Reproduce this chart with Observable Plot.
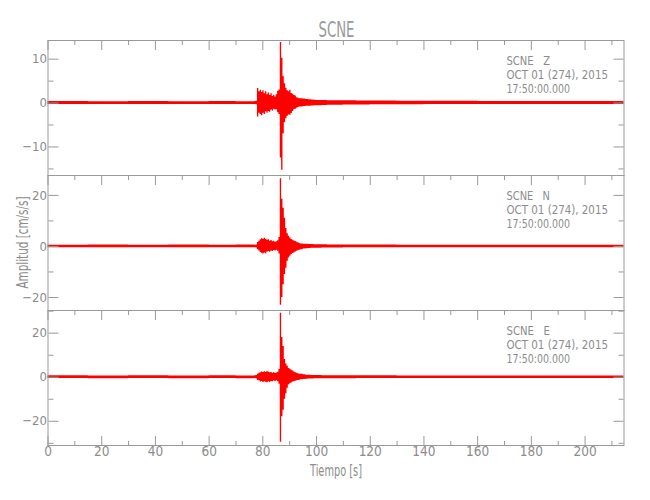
<!DOCTYPE html>
<html><head><meta charset="utf-8">
<script src="https://cdn.jsdelivr.net/npm/d3@7"></script>
<script src="https://cdn.jsdelivr.net/npm/@observablehq/plot@0.6"></script>
<style>
body{margin:0;background:#fff;}
#wrap{position:relative;width:650px;height:500px;overflow:hidden;background:#fff;}
#wrap svg{position:absolute;left:0;}
</style></head><body><div id="wrap"></div>
<script>
// ---- texts ----
const titleText = "SCNE";
const station = "SCNE";
const components = ["Z", "N", "E"];
const dateLine = "OCT 01 (274), 2015";
const timeLine = "17:50:00.000";
const xLabel = "Tiempo [s]";
const yLabel = "Amplitud [cm/s/s]";

// ---- axes ----
const xDomain = [0, 214.5];
const xMajor = [0, 20, 40, 60, 80, 100, 120, 140, 160, 180, 200];
const xMinor = [10, 30, 50, 70, 90, 110, 130, 150, 170, 190, 210];
const yDomains = [[-16.5, 14.25], [-25.1, 27.8], [-31, 30.3]];
const yMajor = [[-10, 0, 10], [-20, 0, 20], [-20, 0, 20]];
const yMinor = [[-15, -5, 5], [-10, 10], [-30, -10, 10, 30]];

// ---- trace envelopes (max / min per time step) ----
const T = [0, 15, 30, 45, 60, 70, 77,
  77.5, 78, 78.5, 79, 79.5, 80, 80.5, 81, 81.5, 82, 82.5, 83, 83.5, 84, 84.5, 85, 85.5, 86,
  86.5, 87, 87.5, 88, 88.5, 89, 89.5, 90, 90.5, 91, 91.5, 92, 92.5, 93, 93.5, 94,
  95, 96, 97, 98, 99, 100,
  102, 104, 107, 110, 115, 120,
  130, 140, 160, 180, 200, 214.5];

const zHi = [0.35, 0.3, 0.35, 0.3, 0.35, 0.3, 0.35,
  0.4, 3.3, 2.6, 2.9, 2.4, 2.8, 2.1, 2.6, 1.9, 2.3, 1.7, 2.1, 1.5, 1.8, 1.4, 1.9, 2.7, 3.0,
  13.8, 10.2, 6.0, 4.4, 3.4, 2.8, 2.6, 2.9, 2.2, 2.0, 1.7, 1.6, 1.2, 1.1, 1.0, 1.0,
  0.9, 0.8, 0.75, 0.7, 0.65, 0.6,
  0.6, 0.55, 0.5, 0.5, 0.45, 0.45,
  0.4, 0.4, 0.35, 0.35, 0.35, 0.35];
const zLo = [-0.3, -0.35, -0.3, -0.35, -0.3, -0.35, -0.3,
  -0.4, -3.2, -2.3, -2.6, -2.9, -2.3, -2.6, -2.0, -2.3, -1.9, -2.1, -1.6, -1.8, -1.4, -1.6, -1.5, -2.2, -2.6,
  -12.5, -15.3, -7.0, -4.5, -3.6, -3.0, -2.7, -2.8, -2.4, -1.9, -1.5, -1.4, -1.2, -1.0, -0.9, -0.9,
  -0.8, -0.75, -0.7, -0.65, -0.6, -0.6,
  -0.55, -0.5, -0.5, -0.45, -0.45, -0.4,
  -0.4, -0.35, -0.35, -0.3, -0.35, -0.35];

const nHi = [0.5, 0.55, 0.5, 0.55, 0.5, 0.55, 0.5,
  0.6, 1.5, 2.0, 2.6, 3.0, 2.8, 3.2, 2.7, 2.4, 2.6, 2.0, 2.3, 1.8, 2.0, 1.6, 1.8, 2.2, 3.5,
  26.5, 18.5, 15.0, 11.0, 7.0, 5.0, 4.0, 3.3, 2.7, 2.4, 2.1, 1.9, 1.6, 1.4, 1.2, 1.0,
  0.9, 0.85, 0.8, 0.75, 0.7, 0.7,
  0.65, 0.6, 0.6, 0.55, 0.55, 0.55,
  0.5, 0.5, 0.5, 0.5, 0.5, 0.5];
const nLo = [-0.55, -0.5, -0.55, -0.5, -0.55, -0.5, -0.55,
  -0.6, -1.3, -1.8, -2.4, -2.7, -3.0, -2.6, -2.9, -2.2, -2.0, -2.3, -1.8, -2.0, -1.6, -1.8, -1.5, -1.9, -3.0,
  -23.0, -20.0, -15.0, -11.0, -8.5, -5.8, -4.5, -3.8, -3.2, -2.8, -2.6, -2.2, -1.9, -1.7, -1.5, -1.3,
  -1.0, -0.9, -0.8, -0.75, -0.7, -0.7,
  -0.65, -0.6, -0.6, -0.55, -0.55, -0.55,
  -0.5, -0.5, -0.5, -0.5, -0.5, -0.5];

const eHi = [0.65, 0.6, 0.65, 0.6, 0.65, 0.6, 0.65,
  0.8, 1.4, 1.8, 2.0, 2.4, 2.1, 2.5, 2.2, 2.6, 2.3, 2.0, 2.2, 1.8, 2.0, 1.7, 1.9, 2.3, 3.5,
  29.0, 18.0, 14.0, 8.0, 6.0, 5.0, 4.0, 3.6, 3.2, 2.8, 2.4, 2.0, 1.8, 1.6, 1.4, 1.3,
  1.1, 0.95, 0.85, 0.8, 0.75, 0.75,
  0.7, 0.7, 0.7, 0.65, 0.65, 0.65,
  0.6, 0.6, 0.6, 0.6, 0.6, 0.6];
const eLo = [-0.6, -0.65, -0.6, -0.65, -0.6, -0.65, -0.6,
  -0.8, -1.5, -1.6, -2.2, -1.9, -2.4, -2.0, -2.3, -2.5, -2.1, -2.4, -1.9, -2.1, -1.7, -1.9, -1.6, -2.0, -3.2,
  -29.5, -18.0, -15.0, -10.0, -7.5, -5.0, -3.5, -3.0, -2.6, -2.2, -2.0, -1.8, -1.6, -1.5, -1.4, -1.2,
  -1.0, -0.9, -0.8, -0.75, -0.7, -0.7,
  -0.7, -0.65, -0.65, -0.65, -0.6, -0.6,
  -0.6, -0.6, -0.6, -0.6, -0.6, -0.6];

const his = [zHi, nHi, eHi];
const los = [zLo, nLo, eLo];

// ---- styling ----
const FONT = '"Liberation Sans Narrow","DejaVu Sans Condensed","Liberation Sans",sans-serif';
const frameColor = "#999";
const textColor = "#8c8c8c";
const traceColor = "#ff0000";
const panelTops = [39.5, 174.5, 309.5];
const panelH = 135;
const W = 650, ML = 47.5, MR = 26.5;

const wrap = document.getElementById("wrap");

function panel(i) {
  const last = i === 2;
  const rows = T.map((t, k) => ({t, hi: his[i][k], lo: los[i][k]}));
  const mb = last ? 35 : 0;
  const marks = [
    Plot.areaY(rows, {x: "t", y1: "lo", y2: "hi", curve: "step-after", fill: traceColor}),
    Plot.frame({stroke: frameColor}),
    // y ticks inward, left
    Plot.axisY(yMajor[i], {anchor: "right", frameAnchor: "left", tickSize: 10, fill: "none", stroke: frameColor, label: null}),
    Plot.axisY(yMinor[i], {anchor: "right", frameAnchor: "left", tickSize: 5, fill: "none", stroke: frameColor, label: null}),
    // y ticks inward, right
    Plot.axisY(yMajor[i], {anchor: "left", frameAnchor: "right", tickSize: 10, fill: "none", stroke: frameColor, label: null}),
    Plot.axisY(yMinor[i], {anchor: "left", frameAnchor: "right", tickSize: 5, fill: "none", stroke: frameColor, label: null}),
    // y tick labels
    Plot.axisY(yMajor[i], {anchor: "left", tickSize: 0, tickPadding: 1, fill: textColor, label: null, fontSize: 13}),
    // x ticks inward, top
    Plot.axisX(xMajor, {anchor: "bottom", frameAnchor: "top", tickSize: 10, fill: "none", stroke: frameColor, label: null}),
    Plot.axisX(xMinor, {anchor: "bottom", frameAnchor: "top", tickSize: 5, fill: "none", stroke: frameColor, label: null})
  ];
  if (last) {
    marks.push(
      Plot.axisX(xMajor, {anchor: "top", frameAnchor: "bottom", tickSize: 10, fill: "none", stroke: frameColor, label: null}),
      Plot.axisX(xMinor, {anchor: "top", frameAnchor: "bottom", tickSize: 5, fill: "none", stroke: frameColor, label: null}),
      Plot.axisX(xMajor, {anchor: "bottom", tickSize: 0, tickPadding: 1, fill: textColor, label: null, fontSize: 13.5})
    );
  }
  const svg = Plot.plot({
    width: W,
    height: panelH + mb,
    marginLeft: ML, marginRight: MR, marginTop: 0, marginBottom: mb,
    x: {domain: xDomain},
    y: {domain: yDomains[i]},
    style: {background: "transparent", overflow: "visible", fontFamily: FONT, fontSize: "13px", color: textColor},
    marks
  });
  svg.style.top = panelTops[i] + "px";
  wrap.appendChild(svg);
}
[0, 1, 2].forEach(panel);

// ---- overlay texts ----
const ov = d3.create("svg").attr("width", W).attr("height", 500)
  .style("top", "0px").style("overflow", "visible")
  .attr("font-family", FONT).attr("fill", textColor);

ov.append("text").attr("x", 336.5).attr("y", 37).attr("text-anchor", "middle").attr("fill", "#999")
  .attr("font-size", 21).attr("textLength", 36).attr("lengthAdjust", "spacingAndGlyphs").text(titleText);

ov.append("text").attr("x", 336).attr("y", 476).attr("text-anchor", "middle")
  .attr("font-size", 15).attr("textLength", 52).attr("lengthAdjust", "spacingAndGlyphs").text(xLabel);

ov.append("text").attr("transform", "translate(28,242.5) rotate(-90)").attr("text-anchor", "middle")
  .attr("font-size", 15).attr("textLength", 92).attr("lengthAdjust", "spacingAndGlyphs").text(yLabel);

components.forEach((c, i) => {
  const top = panelTops[i] + 0.5;
  const g = ov.append("g").attr("font-size", 12).style("white-space", "pre");
  g.append("text").attr("x", 506.5).attr("y", top + 25).attr("textLength", 43.5).attr("lengthAdjust", "spacingAndGlyphs").attr("xml:space", "preserve").text(station + "   " + c);
  g.append("text").attr("x", 506.5).attr("y", top + 39).attr("textLength", 101.5).attr("lengthAdjust", "spacingAndGlyphs").text(dateLine);
  g.append("text").attr("x", 506.5).attr("y", top + 53).attr("textLength", 63.5).attr("lengthAdjust", "spacingAndGlyphs").text(timeLine);
});
wrap.appendChild(ov.node());
</script>
</body></html>
